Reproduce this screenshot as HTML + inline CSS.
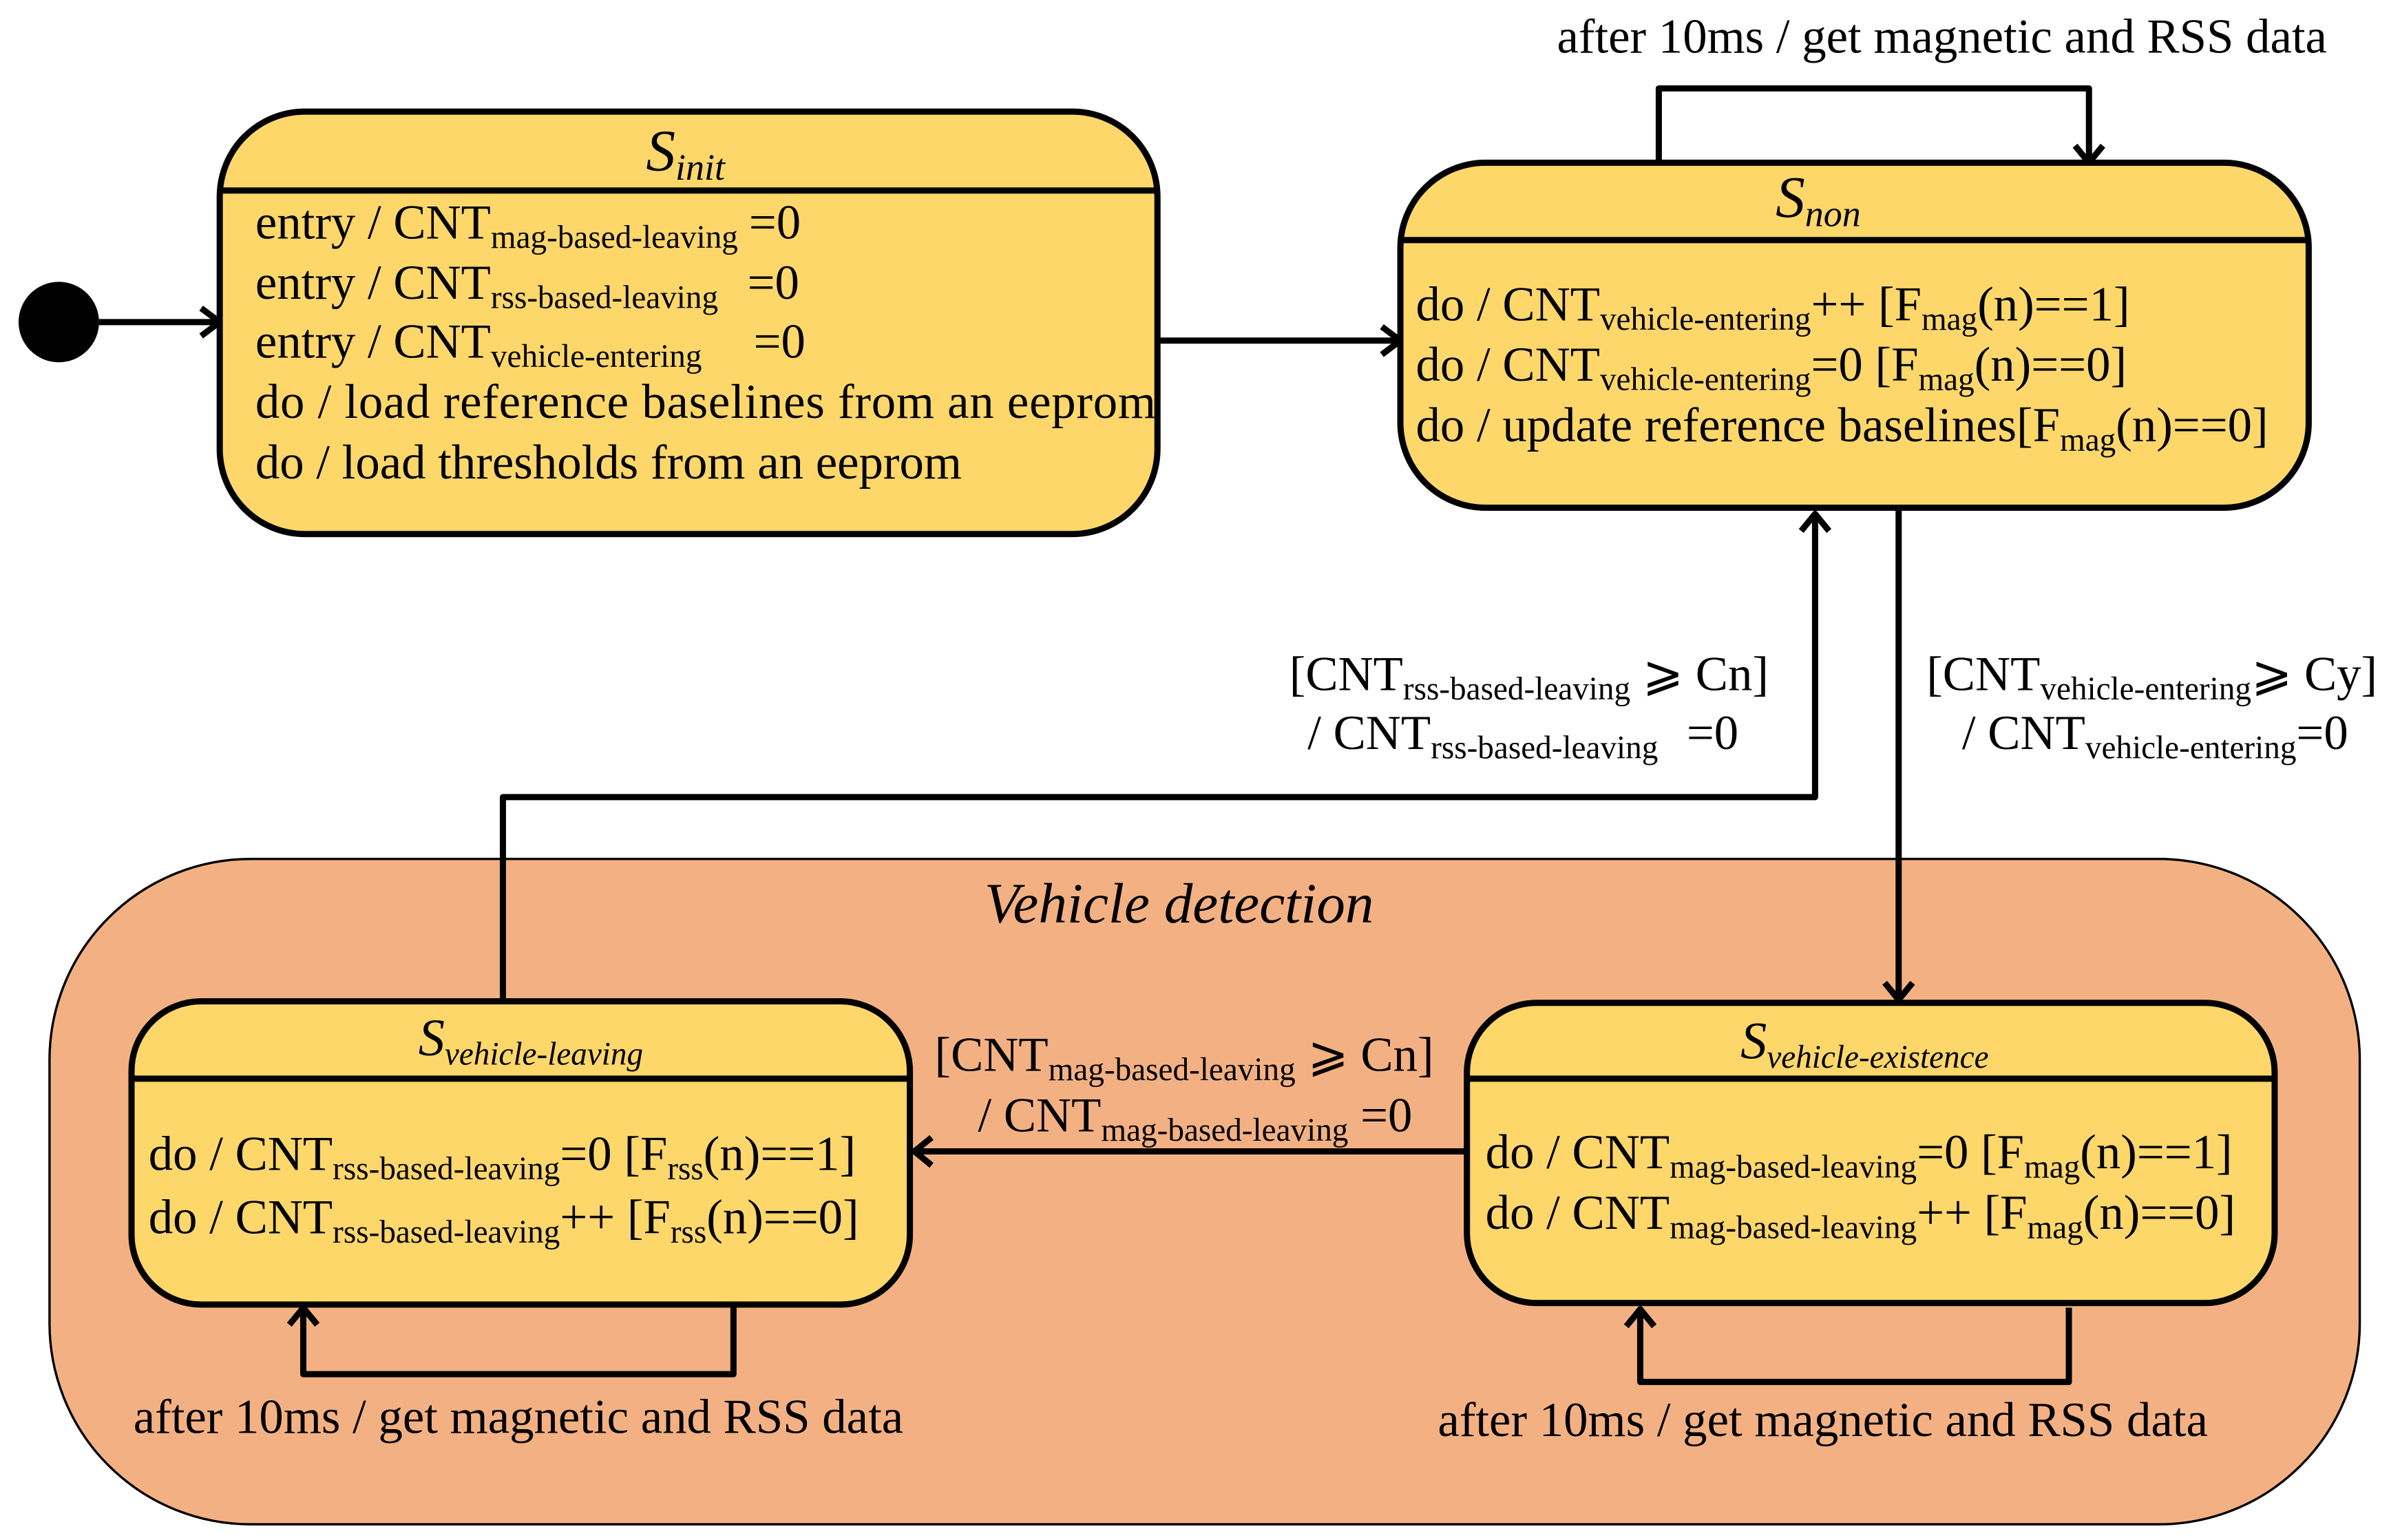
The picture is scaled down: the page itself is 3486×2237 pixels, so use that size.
<!DOCTYPE html>
<html><head><meta charset="utf-8"><style>
html,body{margin:0;padding:0;background:#fff;}
svg{display:block;}
text{font-family:"Liberation Serif",serif;font-size:31.5px;fill:#000;}
.s{font-size:21px;}
</style></head><body>
<svg width="3486" height="2237" viewBox="0 0 1551 995" xmlns="http://www.w3.org/2000/svg">
<rect width="1551" height="995" fill="#fff"/>
<rect x="32" y="555" width="1493" height="430" rx="130" fill="#F3B183" stroke="#000" stroke-width="1.5"/>
<text x="762" y="596" text-anchor="middle" font-style="italic" style="font-size:37px">Vehicle detection</text>

<g stroke="#000" stroke-width="4" fill="#FDD76A">
<rect x="142" y="72" width="606" height="273" rx="55"/>
<rect x="905" y="105" width="587" height="223" rx="55"/>
<rect x="85" y="647" width="503" height="196" rx="45"/>
<rect x="948" y="648" width="522" height="194" rx="45"/>
</g>
<g stroke="#000" stroke-width="4">
<line x1="142" y1="123" x2="748" y2="123"/>
<line x1="905" y1="155" x2="1492" y2="155"/>
<line x1="85" y1="697" x2="588" y2="697"/>
<line x1="948" y1="697" x2="1470" y2="697"/>
</g>

<circle cx="38" cy="208" r="26" fill="#000"/>
<g stroke="#000" stroke-width="4" fill="none" stroke-linejoin="round">
<line x1="64" y1="208" x2="142" y2="208"/><polyline points="130,199 142,208 130,217"/>
<line x1="748" y1="220" x2="905" y2="220"/><polyline points="893,211 905,220 893,229"/>
<polyline points="1072,105 1072,57 1350,57 1350,105"/><polyline points="1341,94 1350,105 1359,94"/>
<line x1="1227" y1="328" x2="1227" y2="646"/><polyline points="1218,635 1227,646 1236,635"/>
<polyline points="325,645 325,515 1173,515 1173,332"/><polyline points="1164,343 1173,332 1182,343"/>
<line x1="948" y1="744" x2="591" y2="744"/><polyline points="602,735 591,744 602,753"/>
<polyline points="474,843 474,888 196,888 196,845"/><polyline points="187,856 196,845 205,856"/>
<polyline points="1337,845 1337,893 1060,893 1060,846"/><polyline points="1051,857 1060,846 1069,857"/>
</g>

<text x="443" y="110" text-anchor="middle" font-style="italic" style="font-size:38px">S<tspan dy="6" style="font-size:24px">init</tspan></text>
<text x="1175" y="140" text-anchor="middle" font-style="italic" style="font-size:38px">S<tspan dy="6" style="font-size:24px">non</tspan></text>
<text x="343" y="682" text-anchor="middle" font-style="italic" style="font-size:34px">S<tspan dy="6" style="font-size:21px">vehicle-leaving</tspan></text>
<text x="1205" y="684" text-anchor="middle" font-style="italic" style="font-size:34px">S<tspan dy="6" style="font-size:21px">vehicle-existence</tspan></text>

<text x="165" y="154">entry / CNT<tspan class="s" dy="6">mag-based-leaving</tspan><tspan dy="-6" x="484">=0</tspan></text>
<text x="165" y="193">entry / CNT<tspan class="s" dy="6">rss-based-leaving</tspan><tspan dy="-6" x="483">=0</tspan></text>
<text x="165" y="231">entry / CNT<tspan class="s" dy="6">vehicle-entering</tspan><tspan dy="-6" x="487">=0</tspan></text>
<text x="165" y="270" textLength="582">do / load reference baselines from an eeprom</text>
<text x="165" y="309">do / load thresholds from an eeprom</text>

<text x="915" y="207">do / CNT<tspan class="s" dy="6">vehicle-entering</tspan><tspan dy="-6">++ [F</tspan><tspan class="s" dy="6">mag</tspan><tspan dy="-6">(n)==1]</tspan></text>
<text x="915" y="246">do / CNT<tspan class="s" dy="6">vehicle-entering</tspan><tspan dy="-6">=0  [F</tspan><tspan class="s" dy="6">mag</tspan><tspan dy="-6">(n)==0]</tspan></text>
<text x="915" y="285">do / update reference baselines[F<tspan class="s" dy="6">mag</tspan><tspan dy="-6">(n)==0]</tspan></text>

<text x="1255" y="34" text-anchor="middle">after 10ms / get magnetic and RSS data</text>
<text x="335" y="926" text-anchor="middle">after 10ms / get magnetic and RSS data</text>
<text x="1178" y="928" text-anchor="middle">after 10ms / get magnetic and RSS data</text>

<text x="1143" y="446" text-anchor="end">[CNT<tspan class="s" dy="6">rss-based-leaving</tspan><tspan dy="-6"> ⩾ Cn]</tspan></text>
<text x="845" y="484">/ CNT<tspan class="s" dy="6">rss-based-leaving</tspan><tspan dy="-6" x="1090">=0</tspan></text>
<text x="1245" y="446">[CNT<tspan class="s" dy="6">vehicle-entering</tspan><tspan dy="-6">⩾ Cy]</tspan></text>
<text x="1268" y="484">/ CNT<tspan class="s" dy="6">vehicle-entering</tspan><tspan dy="-6">=0</tspan></text>
<text x="604" y="692">[CNT<tspan class="s" dy="6">mag-based-leaving</tspan><tspan dy="-6"> ⩾ Cn]</tspan></text>
<text x="632" y="731">/ CNT<tspan class="s" dy="6">mag-based-leaving</tspan><tspan dy="-6"> =0</tspan></text>

<text x="96" y="756">do / CNT<tspan class="s" dy="6">rss-based-leaving</tspan><tspan dy="-6">=0  [F</tspan><tspan class="s" dy="6">rss</tspan><tspan dy="-6">(n)==1]</tspan></text>
<text x="96" y="797">do / CNT<tspan class="s" dy="6">rss-based-leaving</tspan><tspan dy="-6">++  [F</tspan><tspan class="s" dy="6">rss</tspan><tspan dy="-6">(n)==0]</tspan></text>

<text x="960" y="755">do / CNT<tspan class="s" dy="6">mag-based-leaving</tspan><tspan dy="-6">=0 [F</tspan><tspan class="s" dy="6">mag</tspan><tspan dy="-6">(n)==1]</tspan></text>
<text x="960" y="794">do / CNT<tspan class="s" dy="6">mag-based-leaving</tspan><tspan dy="-6">++ [F</tspan><tspan class="s" dy="6">mag</tspan><tspan dy="-6">(n)==0]</tspan></text>
</svg>
</body></html>
